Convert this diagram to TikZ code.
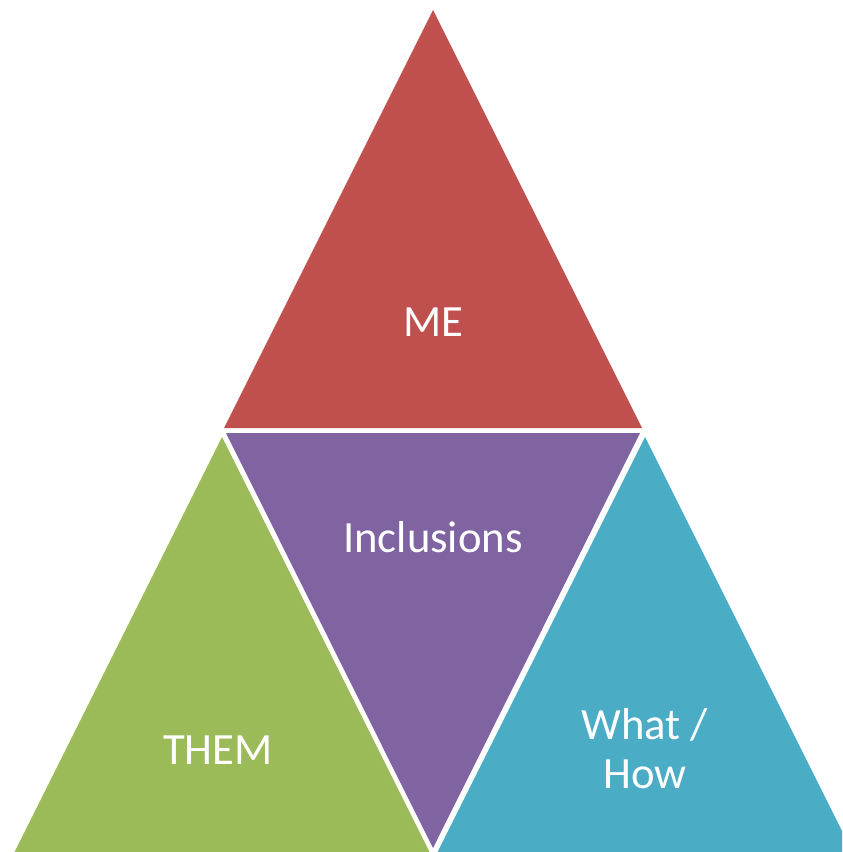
\documentclass[tikz,border=0pt]{standalone}
\usepackage{fontspec}
\setmainfont{Carlito}
\definecolor{cred}{HTML}{C0504D}
\definecolor{cpurple}{HTML}{8064A2}
\definecolor{cgreen}{HTML}{9BBB59}
\definecolor{cblue}{HTML}{4BACC6}
\tikzset{
  lbl/.style={text=white, font=\fontsize{33.5}{36.75}\selectfont, align=center, inner sep=0pt},
  tri/.style={draw=none}
}
\begin{document}
\begin{tikzpicture}[x=0.75pt,y=-0.75pt]
\useasboundingbox (0,0) rectangle (842,852);
\clip (0,0) rectangle (842,852);
% top
\fill[cred] (433,10) -- (224,428) -- (642,428) -- cycle;
% middle inverted
\fill[cpurple] (226,433) -- (640,433) -- (433,848) -- cycle;
% left
\fill[cgreen] (222,437) -- (13,855) -- (431,855) -- cycle;
% right
\fill[cblue] (645,437) -- (436,855) -- (854,855) -- cycle;
\node[lbl] (me) at (433,322) {ME};
\node[lbl] (incl) at (433,537) {Inclusions};
\node[lbl] (them) at (218,750) {THEM};
\node[lbl] (what) at (645,749) {What /\\How};
\end{tikzpicture}
\end{document}
